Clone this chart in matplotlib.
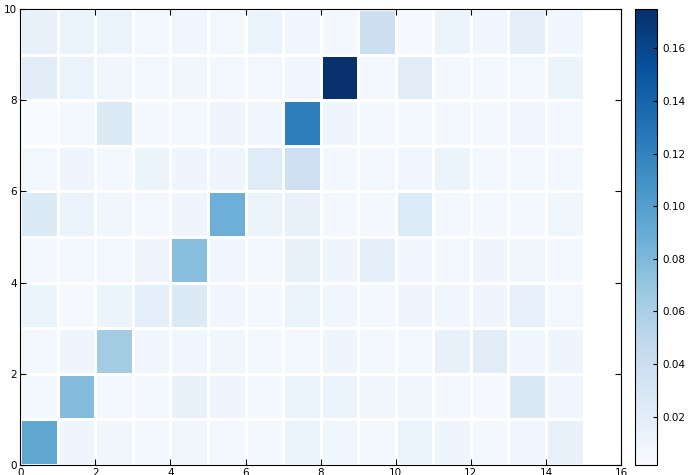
import numpy as np
import matplotlib
matplotlib.use("Agg")
import matplotlib.pyplot as plt

# cell values, one list per row, bottom row (y=0) first
row0 = [0.095, 0.010, 0.009, 0.007, 0.009, 0.005, 0.006, 0.013, 0.008, 0.006, 0.013, 0.010, 0.006, 0.008, 0.015]
row1 = [0.006, 0.077, 0.006, 0.007, 0.015, 0.011, 0.006, 0.012, 0.013, 0.009, 0.009, 0.005, 0.004, 0.027, 0.008]
row2 = [0.007, 0.010, 0.064, 0.008, 0.008, 0.009, 0.005, 0.007, 0.010, 0.005, 0.006, 0.015, 0.020, 0.008, 0.010]
row3 = [0.012, 0.004, 0.012, 0.018, 0.025, 0.008, 0.006, 0.013, 0.008, 0.005, 0.010, 0.008, 0.010, 0.016, 0.007]
row4 = [0.007, 0.005, 0.007, 0.010, 0.076, 0.008, 0.007, 0.015, 0.010, 0.018, 0.008, 0.007, 0.010, 0.009, 0.006]
row5 = [0.025, 0.013, 0.009, 0.007, 0.010, 0.087, 0.012, 0.015, 0.005, 0.005, 0.024, 0.006, 0.005, 0.006, 0.009]
row6 = [0.007, 0.010, 0.006, 0.012, 0.010, 0.010, 0.022, 0.038, 0.006, 0.007, 0.008, 0.012, 0.005, 0.006, 0.006]
row7 = [0.0016, 0.005, 0.025, 0.006, 0.005, 0.010, 0.008, 0.123, 0.010, 0.005, 0.005, 0.005, 0.005, 0.008, 0.006]
row8 = [0.020, 0.013, 0.009, 0.007, 0.009, 0.007, 0.007, 0.008, 0.175, 0.005, 0.020, 0.006, 0.005, 0.007, 0.012]
row9 = [0.015, 0.012, 0.013, 0.007, 0.008, 0.007, 0.013, 0.008, 0.005, 0.040, 0.004, 0.012, 0.008, 0.018, 0.008]

cbar_ticks = [0.02, 0.04, 0.06, 0.08, 0.10, 0.12, 0.14, 0.16]

data = np.array([row0, row1, row2, row3, row4, row5, row6, row7, row8, row9])

plt.rcParams['font.size'] = 8
plt.rcParams['xtick.direction'] = 'in'
plt.rcParams['ytick.direction'] = 'in'

fig = plt.figure(figsize=(6.94, 4.75), dpi=100)
ax = fig.add_axes([0.029, 0.021, 0.866, 0.960])
cax = fig.add_axes([0.915, 0.021, 0.032, 0.960])

mesh = ax.pcolormesh(data, cmap='Blues', edgecolors='white', linewidth=2)
ax.set_xlim(0, 16)
ax.set_ylim(0, 10)
ax.set_xticks(range(0, 17, 2))
ax.set_yticks(range(0, 11, 2))
ax.tick_params(top=True, right=True, length=4, pad=2, labelsize=7.5)

cb = fig.colorbar(mesh, cax=cax, ticks=cbar_ticks)
cb.ax.tick_params(direction='in', length=3, labelsize=7.5)
cb.ax.set_yticklabels([f"{t:.2f}" for t in cbar_ticks])

fig.savefig("out.png", dpi=100)
